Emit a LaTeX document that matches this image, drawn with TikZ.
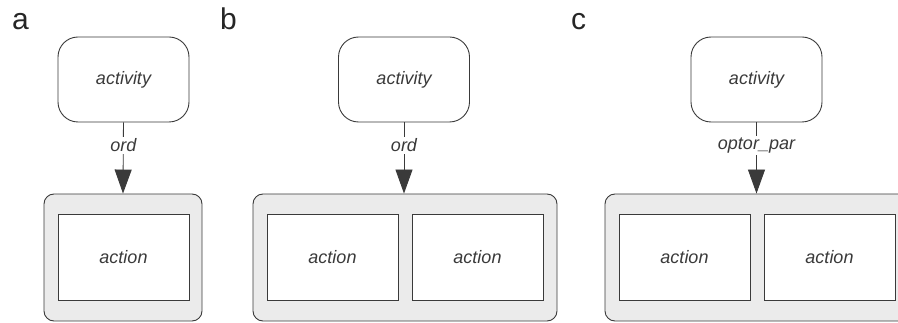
\documentclass[tikz,border=0pt]{standalone}
\usepackage{fontspec}
\setmainfont{Liberation Sans}
\usetikzlibrary{arrows.meta}
\definecolor{ink}{HTML}{3A3A3A}
\definecolor{panel}{HTML}{EBEBEB}
\tikzset{
  activitybox/.style={draw=ink, line width=0.9pt, rounded corners=20pt, minimum width=131pt, minimum height=85pt, inner sep=0pt, font=\fontsize{18}{20}\selectfont\itshape, text=ink},
  groupbox/.style={draw=ink, fill=panel, line width=0.9pt, rounded corners=10pt, minimum height=127pt, inner sep=0pt},
  actionbox/.style={draw=ink, fill=white, line width=0.9pt, minimum width=131pt, minimum height=86pt, inner sep=0pt, font=\fontsize{18}{20}\selectfont\itshape, text=ink},
  flow/.style={draw=ink, line width=0.9pt, -{Triangle[width=17pt,length=24pt]}},
  flowlabel/.style={fill=white, inner sep=2pt, font=\fontsize{18}{20}\selectfont\itshape, text=ink, pos=0.32},
  paneltag/.style={font=\fontsize{30}{32}\selectfont, text=black!85, anchor=base west, inner sep=0pt}
}
\begin{document}
\begin{tikzpicture}[x=1pt,y=-1pt]
\useasboundingbox (0,0) rectangle (898,323);
\clip (0,0) rectangle (898,323);
% panel a
\node[paneltag] (ta) at (12,30) {a};
\node[activitybox] (acta) at (123.5,79.5) {activity};
\node[groupbox, minimum width=158pt] (ga) at (123,257.5) {};
\node[actionbox] (a1) at (123.5,257) {action};
\draw[flow] (acta.south) -- node[flowlabel] {ord} (ga.north);
% panel b
\node[paneltag] (tb) at (220,30) {b};
\node[activitybox] (actb) at (404,79.5) {activity};
\node[groupbox, minimum width=304pt] (gb) at (405,257.5) {};
\node[actionbox] (b1) at (332.5,257) {action};
\node[actionbox] (b2) at (477.5,257) {action};
\draw[flow] (actb.south) -- node[flowlabel] {ord} (actb.south |- gb.north);
% panel c
\node[paneltag] (tc) at (571,30) {c};
\node[activitybox] (actc) at (756.5,79.5) {activity};
\node[groupbox, minimum width=304pt] (gc) at (757,257.5) {};
\node[actionbox] (c1) at (684.5,257) {action};
\node[actionbox] (c2) at (829.5,257) {action};
\draw[flow] (actc.south) -- node[flowlabel] {optor\_par} (actc.south |- gc.north);
\end{tikzpicture}
\end{document}
